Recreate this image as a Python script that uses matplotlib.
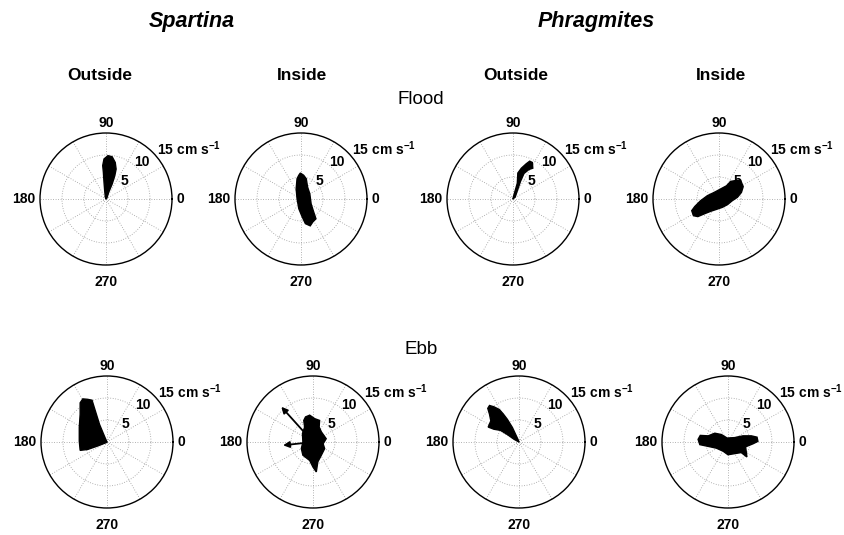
import numpy as np
import matplotlib
matplotlib.use("Agg")
import matplotlib.pyplot as plt

plt.rcParams['font.family'] = ['Liberation Sans', 'DejaVu Sans']
plt.rcParams['mathtext.fontset'] = 'custom'
plt.rcParams['mathtext.rm'] = 'Liberation Sans:bold'
plt.rcParams['mathtext.default'] = 'rm'

# ---------------- data (outline of velocity clouds, east u / north v, cm s-1) ----------------
panel_titles = ["Outside", "Inside", "Outside", "Inside"]
species = ["Spartina", "Phragmites"]
rows = ["Flood", "Ebb"]
angle_labels = ["0", "90", "180", "270"]
ring_labels = ["5", "10", "15 cm s$^{-1}$"]

# Flood, Spartina outside
f1_u = [0.0, -0.15, -0.3, -0.45, -0.6, -0.75, -0.45, 0.45, 1.4, 2.1, 2.3, 2.0, 1.4, 0.6, 0.2]
f1_v = [0.0, 0.4, 1.9, 3.8, 6.1, 7.6, 9.1, 9.85, 9.6, 8.3, 6.8, 5.3, 3.4, 1.5, 0.2]
# Flood, Spartina inside
f2_u = [-0.15, 0.6, 1.2, 1.5, 2.0, 2.3, 2.9, 3.4, 2.7, 2.1, 1.0, 0.2, -0.5, -0.9, -1.1, -0.9, -0.5]
f2_v = [5.9, 5.4, 4.6, 2.7, 1.2, -1.1, -3.0, -4.5, -5.2, -6.1, -5.6, -3.9, -2.2, 0.1, 2.3, 4.6, 5.4]
# Flood, Phragmites outside
f3_u = [0.0, 0.08, 0.98, 1.1, 1.9, 3.0, 3.8, 4.4, 4.5, 3.6, 2.5, 1.7, 0.5]
f3_v = [0.0, 0.45, 3.6, 5.9, 7.0, 8.0, 8.6, 8.3, 7.0, 6.7, 5.8, 4.0, 0.45]
# Flood, Phragmites inside
f4_u = [4.9, 3.8, 2.65, 1.7, 0.4, -1.1, -2.65, -4.2, -5.5, -6.2, -5.8, -4.8, -3.4, -1.9, -0.4,
        0.75, 1.9, 3.0, 4.2, 5.1, 5.5]
f4_v = [4.3, 4.2, 4.0, 3.0, 2.3, 1.5, 0.75, -0.4, -1.7, -2.65, -3.8, -4.0, -3.4, -2.8, -2.3,
        -1.9, -1.3, -0.4, 0.4, 1.5, 2.8]
# Ebb, Spartina outside
e1_u = [0.0, -0.45, -1.7, -3.0, -3.4, -4.4, -5.5, -6.1, -6.1, -6.3, -6.3, -6.1, -4.4, -2.1, -0.2]
e1_v = [0.0, 1.0, 4.0, 8.2, 9.5, 9.7, 9.8, 8.9, 6.3, 3.3, 0.2, -1.9, -1.7, -0.9, -0.15]
# Ebb, Spartina inside
e2_u = [-1.7, -0.75, 0.4, 1.5, 1.4, 1.9, 3.0, 2.3, 2.65, 1.9, 1.1, 0.75, 0.0, -0.75, -2.3,
        -2.65, -2.3, -2.4, -1.9, -2.1]
e2_v = [5.7, 6.1, 5.3, 4.9, 3.4, 2.3, 0.75, -0.4, -1.5, -3.0, -4.5, -6.8, -5.7, -4.2, -3.0,
        -1.5, 0.0, 1.9, 3.4, 4.9]
e2_arrow_u = [-7.2, -6.8]
e2_arrow_v = [8.0, -0.75]
# Ebb, Phragmites outside
e3_u = [0.0, -0.15, -1.5, -2.65, -3.6, -4.5, -5.7, -6.7, -7.1, -6.7, -6.4, -7.0, -5.7, -4.2, -2.65, -1.1]
e3_v = [0.0, 0.4, 3.3, 5.15, 6.4, 7.4, 8.0, 8.3, 7.65, 6.3, 4.8, 3.4, 2.9, 2.65, 1.7, 0.6]
# Ebb, Phragmites inside
e4_u = [-6.8, -6.3, -4.5, -3.0, -1.5, -0.2, 1.5, 3.4, 5.3, 6.6, 6.8, 5.7, 4.0, 4.3, 3.0, 1.5,
        0.0, -1.1, -2.65, -4.5, -6.4]
e4_v = [0.6, 1.5, 1.4, 2.0, 1.7, 0.9, 1.0, 1.4, 1.4, 1.1, 0.15, -0.4, -1.1, -3.4, -2.4, -2.65,
        -2.9, -2.1, -1.4, -1.0, -0.6]

flood = [(f1_u, f1_v), (f2_u, f2_v), (f3_u, f3_v), (f4_u, f4_v)]
ebb = [(e1_u, e1_v), (e2_u, e2_v), (e3_u, e3_v), (e4_u, e4_v)]

# ---------------- layout ----------------
W, H = 844, 535
fig = plt.figure(figsize=(W / 100, H / 100), dpi=100)
R = 66  # px radius
flood_cx = [106, 301, 513, 719]
ebb_cx = [107, 313, 519, 728]
flood_cy = 199
ebb_cy = 442


def make_ax(cx, cy):
    ax = fig.add_axes([(cx - R) / W, 1 - (cy + R) / H, 2 * R / W, 2 * R / H], projection='polar')
    ax.set_ylim(0, 15)
    ax.set_yticks([5, 10])
    ax.set_xticks(np.radians(np.arange(0, 360, 30)))
    ax.set_xticklabels([])
    ax.set_yticklabels([])
    ax.grid(True, color='0.6', linestyle=(0, (1, 2)), linewidth=0.6)
    ax.spines['polar'].set_linewidth(1.0)
    ax.spines['polar'].set_color('black')
    ax.set_facecolor('white')
    lab = dict(fontsize=10, fontweight='bold', clip_on=False)
    ax.text(np.radians(0), 16.0, angle_labels[0], ha='left', va='center', **lab)
    ax.text(np.radians(90), 17.3, angle_labels[1], ha='center', va='center', **lab)
    ax.text(np.radians(180), 16.0, angle_labels[2], ha='right', va='center', **lab)
    ax.text(np.radians(270), 18.9, angle_labels[3], ha='center', va='center', **lab)
    ax.text(np.arctan2(4.1, 4.3), np.hypot(4.3, 4.1), ring_labels[0], ha='center', va='center', **lab)
    ax.text(np.arctan2(8.3, 8.2), np.hypot(8.2, 8.3), ring_labels[1], ha='center', va='center', **lab)
    ax.text(np.arctan2(11.4, 11.6), np.hypot(11.6, 11.4), ring_labels[2], ha='left', va='center', **lab)
    return ax


def draw_cloud(ax, u, v):
    u = np.asarray(u)
    v = np.asarray(v)
    ax.fill(np.arctan2(v, u), np.hypot(u, v), facecolor='black', edgecolor='black',
            linewidth=1.0, zorder=3)
    ax.set_ylim(0, 15)


for i in range(4):
    ax = make_ax(flood_cx[i], flood_cy)
    draw_cloud(ax, *flood[i])
    ax = make_ax(ebb_cx[i], ebb_cy)
    draw_cloud(ax, *ebb[i])
    if i == 1:
        for au, av in zip(e2_arrow_u, e2_arrow_v):
            ax.annotate('', xy=(np.arctan2(av, au), np.hypot(au, av)), xytext=(0, 0),
                        arrowprops=dict(arrowstyle='-|>', color='black', lw=1.3,
                                        mutation_scale=9, shrinkA=0, shrinkB=0), zorder=4)

# ---------------- texts ----------------
fig.text(192 / W, 1 - 22 / H, species[0], ha='center', va='center', fontsize=15.5,
         fontweight='bold', fontstyle='italic')
fig.text(596 / W, 1 - 22 / H, species[1], ha='center', va='center', fontsize=15.5,
         fontweight='bold', fontstyle='italic')
for x, t in zip([100, 302, 516, 721], panel_titles):
    fig.text(x / W, 1 - 76 / H, t, ha='center', va='center', fontsize=12.5, fontweight='bold')
fig.text(421 / W, 1 - 100 / H, rows[0], ha='center', va='center', fontsize=13.5)
fig.text(421 / W, 1 - 350 / H, rows[1], ha='center', va='center', fontsize=13.5)

fig.savefig("out.png", dpi=100, facecolor='white')
